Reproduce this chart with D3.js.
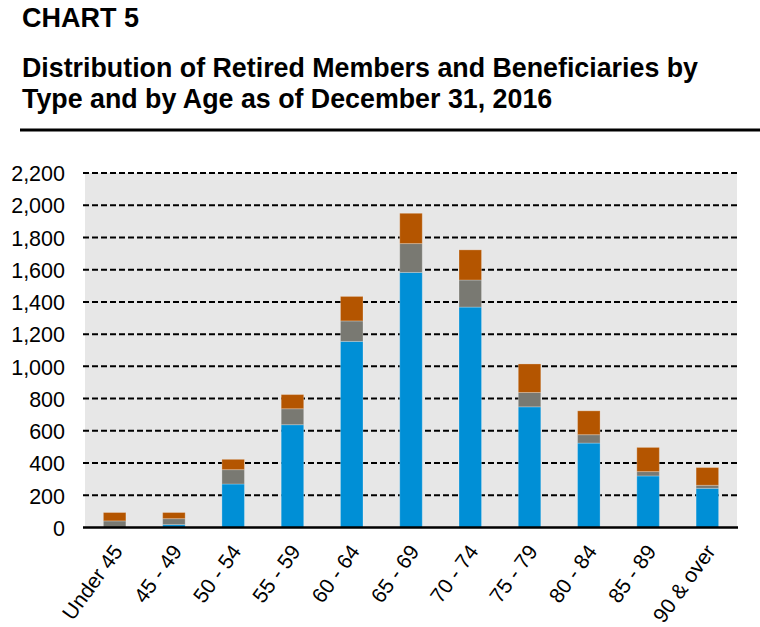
<!DOCTYPE html>
<html>
<head>
<meta charset="utf-8">
<script src="https://cdn.jsdelivr.net/npm/d3@7"></script>
<style>
  body { margin: 0; background: #fff; }
  svg text { font-family: "Liberation Sans", Arial, sans-serif; fill: #000; }
</style>
</head>
<body>
<svg id="chart-svg" width="760" height="627"></svg>
<script>
// age groups and counts per type
const ageGroups = ["Under 45", "45 - 49", "50 - 54", "55 - 59", "60 - 64", "65 - 69",
                   "70 - 74", "75 - 79", "80 - 84", "85 - 89", "90 & over"]
const retired = [0, 18, 270, 638, 1155, 1583, 1368, 749, 524, 320, 243]
const disabled = [41, 37, 89, 99, 127, 179, 168, 89, 52, 27, 19]
const beneficiaries = [52, 38, 64, 88, 152, 188, 187, 177, 148, 150, 110]
const yTicks = [0, 200, 400, 600, 800, 1000, 1200, 1400, 1600, 1800, 2000, 2200]

const seriesKeys = ["retired", "disabled", "beneficiaries"]
const seriesColors = { retired: "#008FD6", disabled: "#797972", beneficiaries: "#B45500" }

const margin = { top: 173, bottom: 99, left: 85, right: 23 }
const width = 760, height = 627

const svg = d3.select("#chart-svg")

// header
svg.append("text").attr("x", 22).attr("y", 27)
   .style("font-size", "27px").style("font-weight", "bold").text("CHART 5")
svg.append("text").attr("x", 22).attr("y", 77)
   .style("font-size", "26.8px").style("font-weight", "bold")
   .text("Distribution of Retired Members and Beneficiaries by")
svg.append("text").attr("x", 22).attr("y", 108)
   .style("font-size", "26.8px").style("font-weight", "bold")
   .text("Type and by Age as of December 31, 2016")
svg.append("line").attr("x1", 20).attr("x2", 760).attr("y1", 130).attr("y2", 130)
   .attr("stroke", "#000").attr("stroke-width", 3)

const rows = ageGroups.map((g, i) => ({
    group: g, retired: retired[i], disabled: disabled[i], beneficiaries: beneficiaries[i]
}))

const x = d3.scaleBand()
    .domain(ageGroups)
    .range([margin.left, width - margin.right])
    .paddingInner(0.62)
    .paddingOuter(0.31)

const y = d3.scaleLinear()
    .domain([0, 2200])
    .range([height - margin.bottom - 0.5, margin.top])

// plot background
svg.append("rect")
    .attr("x", margin.left).attr("y", margin.top)
    .attr("width", width - margin.right - margin.left)
    .attr("height", y(0) - margin.top)
    .attr("fill", "#E7E7E7")

// dashed gridlines + y labels
const yAxis = svg.append("g")
    .attr("transform", "translate(" + (margin.left - 2) + ",0)")
    .call(d3.axisLeft(y).tickValues(yTicks).tickFormat(d3.format(",")).tickSize(0).tickPadding(18))
yAxis.select(".domain").remove()
yAxis.selectAll("text").style("font-size", "21.5px").attr("dy", "0.36em")

svg.append("g").selectAll("line")
    .data(yTicks.filter(d => d > 0))
    .join("line")
    .attr("x1", margin.left - 2).attr("x2", width - margin.right)
    .attr("y1", d => y(d)).attr("y2", d => y(d))
    .attr("stroke", "#000").attr("stroke-width", 2)
    .attr("stroke-dasharray", "6,3")

// stacked bars
const stacked = d3.stack().keys(seriesKeys)(rows)
svg.append("g").selectAll("g")
    .data(stacked)
    .join("g")
    .attr("fill", d => seriesColors[d.key])
    .selectAll("rect")
    .data(d => d)
    .join("rect")
    .attr("x", d => x(d.data.group))
    .attr("y", d => y(d[1]))
    .attr("width", x.bandwidth())
    .attr("height", d => y(d[0]) - y(d[1]))
    .attr("stroke", "rgba(255,255,255,0.25)")
    .attr("stroke-width", 1)

// x axis
const xAxis = svg.append("g")
    .attr("transform", "translate(0," + y(0) + ")")
    .call(d3.axisBottom(x).tickSize(0).tickPadding(0))
xAxis.select(".domain")
    .attr("d", "M" + (margin.left - 2) + ",0H" + (width - margin.right + 1))
    .attr("stroke", "#000").attr("stroke-width", 2.5)
xAxis.selectAll("text")
    .style("font-size", "21px")
    .attr("text-anchor", "end")
    .attr("dy", "0")
    .attr("transform", "translate(9,24) rotate(-54)")
</script>
</body>
</html>
